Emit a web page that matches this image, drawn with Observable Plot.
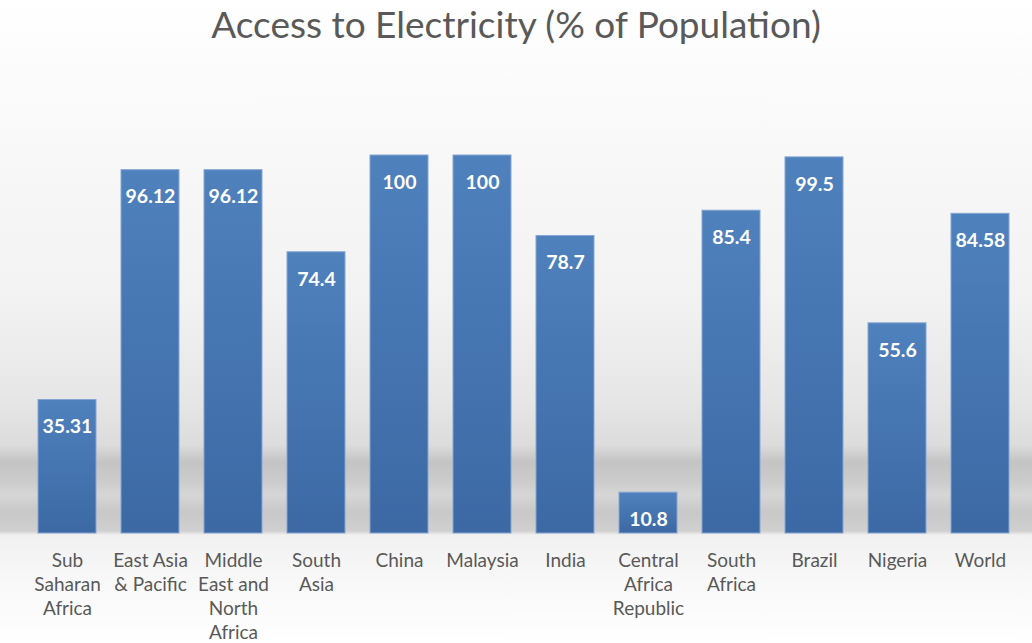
<!DOCTYPE html>
<html><head><meta charset="utf-8">
<script src="https://cdn.jsdelivr.net/npm/d3@7"></script>
<script src="https://cdn.jsdelivr.net/npm/@observablehq/plot@0.6"></script>
<style>
body{margin:0;background:#fff;}
#wrap{width:1032px;height:643px;position:relative;overflow:hidden;
 background:linear-gradient(to bottom,#ffffff 0px,#fbfbfb 80px,#f2f2f2 300px,#e6e6e6 400px,#dcdcdc 445px,#c4c4c4 462px,#cbcbcb 480px,#d6d6d6 495px,#c8c8c8 512px,#d0d0d0 531px,#f1f1f1 535px,#f8f8f8 580px,#ffffff 643px);}
#title{height:60px;font:37px Lato,sans-serif;color:#595959;text-align:center;line-height:47px;}
</style></head><body>
<div id="wrap"><div id="title">Access to Electricity (% of Population)</div><div id="chart"></div></div>
<script>
const categories = ["Sub Saharan Africa","East Asia & Pacific","Middle East and North Africa","South Asia","China","Malaysia","India","Central Africa Republic","South Africa","Brazil","Nigeria","World"];
const tickLabels = ["Sub\nSaharan\nAfrica","East Asia\n& Pacific","Middle\nEast and\nNorth\nAfrica","South\nAsia","China","Malaysia","India","Central\nAfrica\nRepublic","South\nAfrica","Brazil","Nigeria","World"];
const values = [35.31,96.12,96.12,74.4,100,100,78.7,10.8,85.4,99.5,55.6,84.58];
const data = categories.map((c,i)=>({c, label: tickLabels[i], v: values[i]}));

const plot = Plot.plot({
  width:1032, height:583, marginLeft:21.5, marginRight:7.3, marginTop:95, marginBottom:110,
  x:{domain:categories, paddingInner:0.3, paddingOuter:0.15, axis:null},
  y:{domain:[0,100], axis:null},
  style:{background:"transparent", overflow:"visible", fontFamily:"Lato, sans-serif"},
  marks:[
    Plot.barY(data,{x:"c", y:"v", fill:"url(#barGrad)", stroke:"#86a6d2", strokeWidth:1}),
    Plot.text(data,{x:"c", y:"v", text:d=>String(d.v), dy:27, fill:"white", fontWeight:"bold", fontSize:19.5}),
    Plot.text(data,{x:"c", y:0, text:"label", lineAnchor:"top", dy:16.5, fontSize:19, lineHeight:1.263, fill:"#595959"})
  ]
});
const defs = d3.select(plot).insert("defs",":first-child");
const g = defs.append("linearGradient").attr("id","barGrad").attr("x1",0).attr("y1",0).attr("x2",0).attr("y2",1);
g.append("stop").attr("offset","0%").attr("stop-color","#4f81bd");
g.append("stop").attr("offset","100%").attr("stop-color","#3c69a4");
document.getElementById("chart").appendChild(plot);
</script>
</body></html>
